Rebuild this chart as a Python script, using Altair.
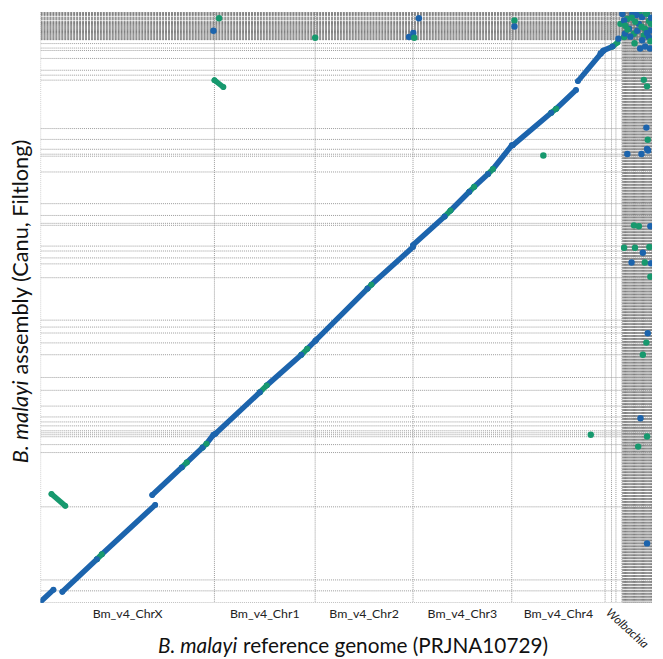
import altair as alt
import pandas as pd

# ---------------- data (positions in Mb) ----------------
ref_names = ["Bm_v4_ChrX", "Bm_v4_Chr1", "Bm_v4_Chr2", "Bm_v4_Chr3", "Bm_v4_Chr4"]
ref_starts = [0.0, 25.14, 39.71, 53.86, 68.14]
ref_ends = [25.14, 39.71, 53.86, 68.14, 81.64]
unplaced_ref_ends = [82.57, 83.21, 84.07]
wolbachia_ref_ends = [84.20, 84.33, 84.46, 84.59, 84.72, 84.85, 84.98, 85.11, 85.24, 85.37,
                      85.50, 85.63, 85.76, 85.89, 86.02, 86.15, 86.28, 86.41, 86.54, 86.67,
                      86.80, 86.93, 87.06, 87.19, 87.32, 87.45, 87.58, 87.71, 87.84, 87.97,
                      88.10, 88.23, 88.36]

asm_contig_ends = [1.71, 3.29, 13.86, 21.71, 22.86, 24.0, 24.29, 24.57, 24.86, 25.57,
                   26.14, 26.86, 28.43, 30.71, 32.57, 35.86, 37.57, 39.0, 39.86, 40.86,
                   47.0, 49.0, 49.86, 50.86, 51.57, 54.57, 54.86, 56.0, 57.71, 62.29,
                   64.57, 64.86, 65.57, 67.0, 68.57, 75.57, 76.29, 77.0, 78.71, 79.86,
                   80.21, 80.86]
asm_small_contig_ends = [81.43, 81.56, 81.69, 81.82, 81.95, 82.08, 82.21, 82.34, 82.47,
                         82.60, 82.73, 82.86, 82.99, 83.12, 83.25, 83.38, 83.51, 83.64,
                         83.77, 83.90, 84.03, 84.29, 84.42, 84.55, 84.68, 84.94, 85.07,
                         85.20, 85.33, 85.46]

# alignment blocks: reference start/end (x), assembly start/end (y), class
seg_x1 = [0.0, 3.143, 8.143, 8.857, 16.143, 20.43, 21.143, 23.43, 24.0, 1.571,
          25.286, 31.714, 32.714, 37.714, 38.571, 25.143,
          39.857, 47.286, 47.857,
          53.857, 58.43, 59.286, 62.0, 62.714, 64.714, 65.43,
          68.286, 73.857, 74.571, 77.714, 81.43, 82.714]
seg_x2 = [1.857, 8.143, 8.857, 16.571, 20.43, 21.143, 23.43, 24.0, 25.0, 3.571,
          31.714, 32.714, 37.714, 38.571, 39.714, 26.43,
          47.286, 47.857, 53.857,
          58.43, 59.286, 62.0, 62.714, 64.714, 65.43, 68.143,
          73.857, 74.571, 77.43, 81.286, 82.714, 83.43]
seg_y1 = [0.143, 1.571, 6.286, 7.0, 15.571, 19.571, 20.286, 22.43, 23.0, 15.714,
          24.43, 30.43, 31.43, 35.857, 36.714, 75.57,
          38.0, 45.43, 46.0,
          51.714, 55.857, 56.714, 59.43, 60.143, 62.0, 62.714,
          66.143, 70.857, 71.43, 75.43, 79.857, 80.43]
seg_y2 = [1.857, 6.286, 7.0, 14.143, 19.571, 20.286, 22.43, 23.0, 24.286, 14.0,
          30.43, 31.43, 35.857, 36.714, 37.857, 74.57,
          45.43, 46.0, 51.43,
          55.857, 56.714, 59.43, 60.143, 62.0, 62.714, 66.143,
          70.857, 71.43, 74.143, 79.714, 80.43, 81.0]
seg_class = ["a", "a", "b", "a", "a", "b", "a", "b", "a", "b",
             "a", "b", "a", "b", "a", "b",
             "a", "b", "a",
             "a", "b", "a", "b", "a", "b", "a",
             "a", "b", "a", "a", "a", "b"]

# isolated alignment hits
pt_x = [25.0, 25.81, 39.71, 54.71, 53.29, 53.9, 54.04, 68.53, 68.53, 72.71, 79.57, 81.0,
        84.14, 84.86, 85.57, 86.53, 87.0, 87.71, 88.3, 85.1, 85.81, 86.53, 87.24, 87.96,
        84.39, 85.29, 87.0, 86.71, 87.43, 88.14, 83.86, 84.39, 86.0, 88.14, 87.43,
        84.57, 86.29, 88.0, 83.57,
        84.5, 85.9, 86.2, 87.5, 88.3, 84.9, 86.9, 87.7, 85.5, 88.2,
        87.24, 87.71, 87.61, 87.81, 87.71, 84.86, 86.9, 87.86, 85.81, 86.53, 88.19,
        84.39, 85.96, 87.1, 88.04, 85.47, 87.39, 88.29, 88.19, 87.81, 87.61, 87.1,
        86.76, 87.71, 86.43, 87.71]
pt_y = [82.71, 84.53, 81.71, 84.53, 81.81, 82.39, 81.71, 84.19, 83.33, 64.67, 24.29, 79.43,
        85.14, 84.43, 85.14, 85.3, 84.71, 85.14, 83.71, 83.0, 82.29, 83.71, 82.04, 81.81,
        81.81, 81.86, 81.33, 80.14, 80.43, 80.14, 83.71, 84.19, 84.0, 82.76, 83.0,
        83.43, 82.71, 84.14, 81.57,
        82.3, 80.9, 85.0, 85.3, 84.6, 82.9, 83.3, 82.4, 84.6, 81.2,
        75.61, 74.67, 68.71, 66.96, 65.61, 64.9, 64.9, 65.39, 54.57, 54.43, 54.43,
        51.33, 51.33, 50.61, 51.43, 49.19, 49.19, 49.1, 47.14, 38.96, 37.61, 35.86,
        26.67, 24.04, 22.57, 8.57]
pt_class = ["a", "b", "b", "a", "a", "a", "b", "b", "a", "b", "b", "a",
            "a", "b", "a", "b", "a", "b", "b", "a", "b", "a", "b", "a",
            "b", "a", "a", "a", "a", "a", "b", "a", "b", "a", "b",
            "b", "a", "b", "a",
            "a", "b", "a", "b", "a", "b", "b", "a", "b", "b",
            "b", "b", "a", "b", "a", "a", "a", "a", "b", "b", "a",
            "b", "b", "a", "b", "a", "b", "a", "b", "a", "b", "b",
            "a", "b", "b", "a"]

# ---------------- build tables ----------------
W, H = 619, 598
xscale = alt.Scale(domain=[0, 88.43], nice=False, zero=False)
yscale = alt.Scale(domain=[0, 85.43], nice=False, zero=False)
cscale = alt.Scale(domain=["a", "b"], range=["#1c64ad", "#17996e"])
GRID = "#9a9a9a"
DENSE = "#7c7c7c"
FONT = "Lato"

vlines = pd.DataFrame({"pos": [0.0] + ref_ends + unplaced_ref_ends})
vdense = pd.DataFrame({"pos": wolbachia_ref_ends})
hlines = pd.DataFrame({"pos": [0.0] + asm_contig_ends})
hdense = pd.DataFrame({"pos": asm_small_contig_ends})
segs = pd.DataFrame({"x1": seg_x1, "x2": seg_x2, "y1": seg_y1, "y2": seg_y2, "cls": seg_class})
ends = pd.DataFrame({
    "x": seg_x1 + seg_x2,
    "y": seg_y1 + seg_y2,
    "cls": seg_class + seg_class,
})
pts = pd.DataFrame({"x": pt_x, "y": pt_y, "cls": pt_class})
labels = pd.DataFrame({"name": ref_names,
                       "mid": [(a + b) / 2 for a, b in zip(ref_starts, ref_ends)]})


def vrule(df, color, dash):
    return alt.Chart(df).mark_rule(color=color, strokeWidth=1, strokeDash=dash, clip=True).encode(
        x=alt.X("pos:Q", scale=xscale, axis=None), y=alt.value(0), y2=alt.value(H))


def hrule(df, color, dash):
    return alt.Chart(df).mark_rule(color=color, strokeWidth=1, strokeDash=dash, clip=True).encode(
        y=alt.Y("pos:Q", scale=yscale, axis=None), x=alt.value(0), x2=alt.value(W))


seg_layer = alt.Chart(segs).mark_rule(strokeWidth=5.5, strokeCap="round", clip=True).encode(
    x=alt.X("x1:Q", scale=xscale, axis=None), x2="x2:Q",
    y=alt.Y("y1:Q", scale=yscale, axis=None), y2="y2:Q",
    color=alt.Color("cls:N", scale=cscale, legend=None))
end_layer = alt.Chart(ends).mark_circle(size=36, opacity=1, clip=True).encode(
    x=alt.X("x:Q", scale=xscale, axis=None), y=alt.Y("y:Q", scale=yscale, axis=None),
    color=alt.Color("cls:N", scale=cscale, legend=None))
pt_layer = alt.Chart(pts).mark_circle(size=42, opacity=1, clip=True).encode(
    x=alt.X("x:Q", scale=xscale, axis=None), y=alt.Y("y:Q", scale=yscale, axis=None),
    color=alt.Color("cls:N", scale=cscale, legend=None))

lab_layer = alt.Chart(labels).mark_text(font=FONT, fontSize=12.5, color="#222",
                                         baseline="middle", align="center").encode(
    x=alt.X("mid:Q", scale=xscale, axis=None), y=alt.value(610), text="name:N")

wol = alt.Chart(pd.DataFrame({"t": ["Wolbachia"], "x": [84.85]})).mark_text(
    font=FONT, fontSize=12, fontStyle="italic", color="#222", angle=42,
    align="center", baseline="middle").encode(
    x=alt.X("x:Q", scale=xscale, axis=None), y=alt.value(624), text="t:N")


def txt(s, x, y, align, italic=False, angle=0, size=21):
    kw = dict(font=FONT, fontSize=size, color="#111", align=align, baseline="middle")
    if italic:
        kw["fontStyle"] = "italic"
    if angle:
        kw["angle"] = angle
    return alt.Chart(pd.DataFrame({"t": [s]})).mark_text(**kw).encode(
        text="t:N", x=alt.value(x), y=alt.value(y))


xt1 = txt("B. malayi", 199, 643, "right", italic=True)
xt2 = txt("reference genome (PRJNA10729)", 205, 643, "left")
yt1 = txt("B. malayi", -20, 373, "right", italic=True, angle=270, size=22)
yt2 = txt("assembly (Canu, Filtlong)", -20, 367, "left", angle=270, size=22)

chart = alt.layer(
    vrule(vlines, GRID, [1, 1]), vrule(vdense, DENSE, [2, 1]),
    hrule(hlines, GRID, [1, 1]), hrule(hdense, DENSE, [2, 1]),
    seg_layer, end_layer, pt_layer, lab_layer, wol, xt1, xt2, yt1, yt2
).properties(
    width=W, height=H,
    padding={"left": 33, "top": 0, "right": 3, "bottom": 53},
    autosize=alt.AutoSizeParams(type="none"),
    background="white",
).configure_view(stroke=None)

chart.save("out.html", embed_options={"renderer": "svg", "actions": False})
